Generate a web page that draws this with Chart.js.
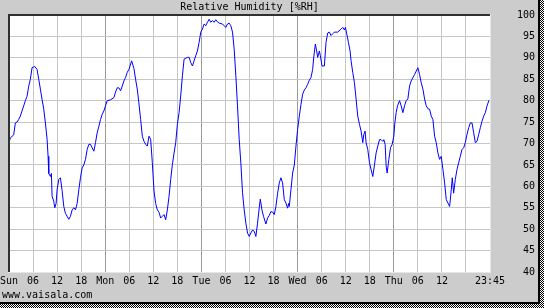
<!DOCTYPE html>
<html><head><meta charset="utf-8">
<script src="https://cdn.jsdelivr.net/npm/chart.js@4"></script>
<style>html,body{margin:0;padding:0;background:#cccccc;}#wrap{width:544px;height:308px;}</style>
</head><body><div id="wrap"><canvas id="c" width="544" height="308"></canvas></div>
<script>
const chartTitle = 'Relative Humidity [%RH]';
const footerText = 'www.vaisala.com';
const xTickValues = [0,6,12,18,24,30,36,42,48,54,60,66,72,78,84,90,96,102,108,114,120];
const xTickLabels = ['Sun','06','12','18','Mon','06','12','18','Tue','06','12','18','Wed','06','12','18','Thu','06','12','','23:45'];
const yTickValues = [40,45,50,55,60,65,70,75,80,85,90,95,100];

const hours = [0,0.33,1.17,1.58,2,2.42,2.83,3.25,3.67,4.08,4.5,4.92,5.33,5.75,6.4,7,7.42,7.83,8.25,8.67,9.08,9.5,9.75,9.92,10.33,10.58,10.75,11.17,11.42,11.75,12,12.42,12.83,13.25,13.67,14.08,14.5,14.92,15.33,15.75,16.17,16.58,17,17.42,17.83,18.25,18.67,19.08,19.5,19.92,20.33,20.75,21.17,21.58,22,22.42,22.83,23.25,23.67,24.08,24.5,25.33,26.17,26.58,27,27.42,27.83,28.25,28.67,29.08,29.5,29.92,30.6,31.17,31.58,32,32.4,32.84,33.26,33.68,34.09,34.5,34.93,35.34,35.76,36.18,36.59,37.01,37.43,37.84,38.26,38.68,39.09,39.51,39.93,40.34,40.76,41.18,41.59,42.01,42.43,42.84,43.26,43.68,44.51,44.93,45.34,45.76,46.18,46.59,47.01,47.43,47.84,48.26,48.68,49.09,49.51,49.93,50.34,50.76,51.18,51.59,52.01,52.43,53.26,54.09,54.51,54.93,55.34,55.76,56.18,56.59,57.01,57.43,57.84,58.26,58.68,59.09,59.51,59.93,60.34,60.76,61.18,61.59,62.01,62.43,62.7,63.1,63.5,64.09,64.51,64.93,65.34,65.76,66.18,66.59,67.01,67.43,67.84,68.26,68.68,69.09,69.51,69.76,69.93,70.34,70.76,71.18,71.59,72.01,72.43,72.84,73.26,73.68,74.09,74.51,74.93,75.34,75.76,76.01,76.43,76.76,77.01,77.43,77.68,78.09,78.68,79.09,79.51,79.93,80.34,80.76,81.18,82.01,82.84,83.26,83.68,83.93,84.26,84.68,85.09,85.34,85.76,86.18,86.59,87.01,87.43,87.84,88.26,88.51,88.84,89.09,89.51,89.93,90.34,90.76,91.18,91.59,92.01,92.43,92.84,93.26,93.51,93.84,94.09,94.34,94.76,95.18,95.59,96.01,96.26,96.59,96.93,97.43,97.84,98.26,98.68,99.09,99.51,99.93,100.34,100.76,101.18,101.59,102.01,102.43,102.84,103.26,103.68,104.09,104.51,104.93,105.34,105.76,106.18,106.59,107.01,107.43,107.84,108.26,108.68,109.09,109.51,109.93,110.34,110.59,110.93,111.34,111.76,112.18,112.59,113.01,113.43,113.84,114.26,114.68,115.09,115.51,115.93,116.34,116.76,117.18,117.59,118.01,118.43,118.84,119.26,119.75];
const rh = [70.2,71.3,72,74.8,75,75.6,76.4,77.6,78.8,80,81,83.4,85,87.7,88,87.3,85,82.7,80.3,78,74.8,71,67,63,62.3,63,57.7,56.5,55,56,59.2,61.6,62,59,55.3,53.7,53,52.3,53,54.5,55,54.5,56,59.2,62,64.3,65,66.3,68.6,69.8,69.8,69,68.2,70.2,72.5,74,75.6,76.8,77.6,78.8,80,80.2,80.7,82,83,83,82.3,83.4,84.6,85.4,86.6,87.3,89.3,87.5,85,82.7,79.5,75.6,71.7,70.5,69.8,69.4,71.7,71,65.5,58.9,56,54.5,53.9,52.6,53,53.4,52.2,54.5,57.7,61.6,65.1,67.8,70.2,74.5,77.2,81.1,85.8,89.7,90.1,90.1,88.9,88.1,89.3,90.5,91.6,93.6,96,96.7,97.9,97.5,98.3,99,98.3,98.7,98.3,98.9,98.4,98.1,97.9,97.1,97.9,98.1,97.5,96,92,85.8,78.8,71,65.5,58.5,54.5,51.4,49.1,48.3,49.1,49.8,49.5,48.3,51.4,55,57,54.5,53,51.2,52.6,53.2,54.1,54,53.4,55.3,58.4,60.8,62,60.8,56.9,56.1,54.9,56,55.3,59.2,63.1,65,69.4,73.3,76.4,79.1,81.5,82.5,83,83.8,84.8,85.4,87.3,90,93.2,91.6,90.1,91.6,90.5,88.1,88.1,93.6,95.8,96,95.2,95.6,96,96,96.7,97.1,96.5,97.1,95.6,93.6,91.6,89.3,86.6,84.2,80.4,76.4,74.5,72.9,70.2,72.1,72.9,70.2,68.6,65.5,63.9,62.3,65,67.8,69.4,70.9,70.9,70.5,70.9,69.8,64.7,63.1,66.3,69,69.8,71.7,74.8,77.2,78.8,80,78.8,77.2,78.8,80,80.4,83.4,84.6,85.4,86.1,86.9,87.7,86.1,84.2,82.7,80.4,78.8,78.1,78,76.4,75.6,71.7,70.2,67.8,66.3,67,63.9,60.8,56.9,56.1,55.3,59.2,62,58.4,61.6,63.9,65.5,67,68.6,69,70.2,72.1,73.7,74.8,74.8,72.5,70.2,70.5,72.1,73.7,75.2,76.4,77.2,78.8,80.1];

const FONT = {family: '"DejaVu Sans Mono", "Liberation Mono", monospace', size: 10};

const deco = {
  id: 'deco',
  beforeDraw(chart) {
    const c = chart.ctx, a = chart.chartArea;
    c.save();
    c.fillStyle = '#cccccc';
    c.fillRect(0, 0, 544, 308);
    c.fillStyle = '#ffffff';
    c.fillRect(a.left, a.top, a.right - a.left, a.bottom - a.top);
    c.restore();
  },
  afterDraw(chart) {
    const c = chart.ctx, a = chart.chartArea;
    c.save();
    // plot frame
    c.fillStyle = '#e6e6e6';
    c.fillRect(a.right, a.top - 1, 1, a.bottom - a.top + 2);
    c.fillRect(a.left - 1, a.bottom, a.right - a.left + 2, 1);
    c.fillStyle = '#303030';
    c.fillRect(a.left - 1, a.top - 1, 2, a.bottom - a.top + 1);
    c.fillRect(a.left - 1, a.top - 1, a.right - a.left + 1, 2);
    // outer frame + checker shadow
    const pc = document.createElement('canvas');
    pc.width = 2; pc.height = 2;
    const px = pc.getContext('2d');
    px.fillStyle = '#ffffff'; px.fillRect(0, 0, 2, 2);
    px.fillStyle = '#000000'; px.fillRect(0, 0, 1, 1); px.fillRect(1, 1, 1, 1);
    c.fillStyle = c.createPattern(pc, 'repeat');
    c.fillRect(540, 0, 4, 308);
    c.fillRect(0, 304, 544, 4);
    c.fillStyle = '#000000';
    c.fillRect(538, 0, 2, 304);
    c.fillRect(0, 302, 540, 2);
    // texts
    c.fillStyle = '#000000';
    c.font = '10px ' + FONT.family;
    c.textBaseline = 'middle';
    c.textAlign = 'center';
    c.fillText(chartTitle, (a.left + a.right) / 2, 7.5);
    c.textAlign = 'left';
    c.fillText(footerText, 2, 295.5);
    c.restore();
  }
};

new Chart(document.getElementById('c'), {
  type: 'line',
  data: {
    datasets: [{
      data: hours.map((h, i) => ({x: h, y: rh[i]})),
      borderColor: '#0000ff',
      borderWidth: 1,
      pointRadius: 0,
      tension: 0,
      fill: false
    }]
  },
  options: {
    responsive: false,
    animation: false,
    devicePixelRatio: 1,
    layout: {padding: {left: 9, top: 15, right: 9, bottom: 0}},
    plugins: {legend: {display: false}, tooltip: {enabled: false}, title: {display: false}},
    scales: {
      x: {
        type: 'linear', min: 0, max: 120,
        afterBuildTicks: s => { s.ticks = xTickValues.map(v => ({value: v})); },
        afterFit: s => { s.height = 36; s.paddingLeft = 0; s.paddingRight = 0; },
        ticks: {
          callback: v => xTickLabels[xTickValues.indexOf(v)],
          font: FONT, color: '#000000', maxRotation: 0, minRotation: 0, autoSkip: false, padding: 3
        },
        grid: {
          drawTicks: false, lineWidth: 1,
          color: ctx => (ctx.tick && ctx.tick.value % 24 === 0 && ctx.tick.value !== 0 && ctx.tick.value !== 120) ? '#9a9a9a' : '#c6c6c6'
        },
        border: {display: false}
      },
      y: {
        position: 'right', min: 40, max: 100,
        afterBuildTicks: s => { s.ticks = yTickValues.map(v => ({value: v})); },
        afterFit: s => { s.width = 45; s.paddingTop = 0; s.paddingBottom = 0; },
        ticks: {font: FONT, color: '#000000', crossAlign: 'far', padding: 27},
        grid: {drawTicks: false, lineWidth: 1, color: '#c6c6c6'},
        border: {display: false}
      }
    }
  },
  plugins: [deco]
});
</script>
</body></html>
